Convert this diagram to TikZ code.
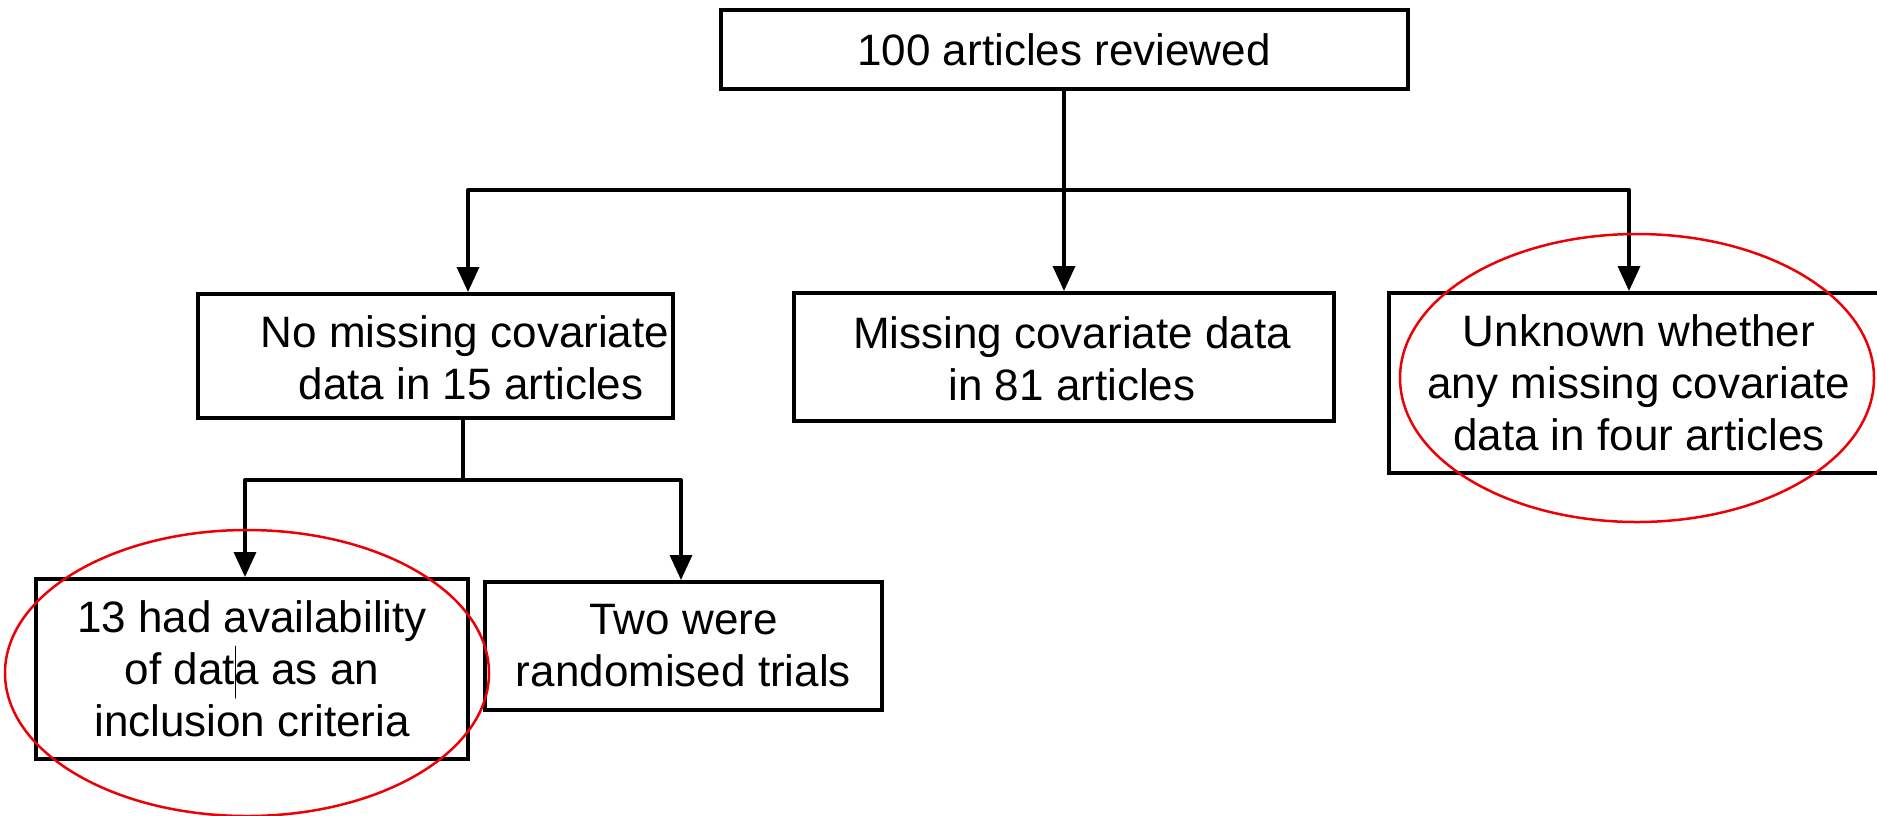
\documentclass[tikz,border=0pt]{standalone}
\usepackage{fontspec}
\setmainfont{Liberation Sans}
\usetikzlibrary{arrows.meta}
\definecolor{ffqqqq}{rgb}{0.93,0,0.02}
\definecolor{qqqqqq}{rgb}{0,0,0}
\tikzset{boxnode/.style={draw=qqqqqq,line width=4pt,line join=miter,rectangle,align=center,inner sep=0pt,font=\fontsize{44}{52}\selectfont},
  textnode/.style={align=center,inner sep=0pt,font=\fontsize{44}{52}\selectfont}}

\begin{document}
\begin{tikzpicture}[line cap=round,line join=round,>={Triangle[length=25pt,width=22pt]},x=1.0pt,y=-1.0pt]
\useasboundingbox (0,0) rectangle (1877,815);
% boxes
\node[boxnode,minimum width=687pt,minimum height=79pt] (reviewed) at (1064,49.5) {100 articles reviewed};
\node[boxnode,minimum width=475pt,minimum height=124pt] (nomiss) at (435.5,356) {};
\node[textnode] (nomisstext) at (465,358) {No missing covariate\\ \hspace*{12pt}data in 15 articles};
\node[boxnode,minimum width=540pt,minimum height=128pt] (miss) at (1064,357) {};
\node[textnode] (misstext) at (1072,359) {Missing covariate data\\in 81 articles};
\node[boxnode,minimum width=500pt,minimum height=180pt] (unknown) at (1639,383) {Unknown whether\\any missing covariate\\ data in four articles};
\node[boxnode,minimum width=432pt,minimum height=180pt] (avail) at (252,669) {13 had availability\\of data as an\\inclusion criteria};
\node[boxnode,minimum width=397pt,minimum height=128pt] (twotrials) at (683.5,646) {Two were\\randomised trials};
% connectors
\coordinate (a0) at (1064,190);
\coordinate (a1) at (468,190);
\coordinate (a2) at (1629,190);
\coordinate (c0) at (463,480);
\coordinate (c1) at (245,480);
\coordinate (c2) at (681,480);
\begin{scope}[line width=3.5pt,color=qqqqqq]
\draw (reviewed.south) -- (a0);
\draw (a1) -- (a2);
\draw[->] (a1) -- (a1 |- nomiss.north);
\draw[->] (a0) -- (a0 |- miss.north);
\draw[->] (a2) -- (a2 |- unknown.north);
\draw (c0 |- nomiss.south) -- (c0);
\draw (c1) -- (c2);
\draw[->] (c1) -- (c1 |- avail.north);
\draw[->] (c2) -- (c2 |- twotrials.north);
\end{scope}
\draw[line width=1pt,color=qqqqqq] (235,646) -- (235,698);
% red marks
\draw[line width=2.5pt,color=ffqqqq] (247,673) ellipse (242 and 143);
\draw[line width=2.5pt,color=ffqqqq] (1637,378) ellipse (237 and 144);
\end{tikzpicture}
\end{document}
